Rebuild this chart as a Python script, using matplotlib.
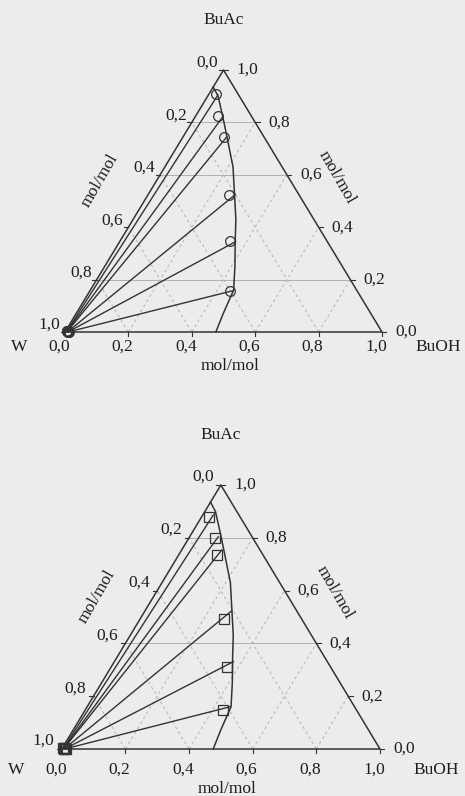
import numpy as np
import matplotlib.pyplot as plt

plt.rcParams['font.family'] = ['Liberation Serif', 'DejaVu Serif']

# binodal curve, organic branch (mole fractions)
binodal_buoh = [0.476, 0.464, 0.452, 0.411, 0.362, 0.324, 0.275, 0.215, 0.135, 0.088, 0.033, 0.0]
binodal_buac = [0.0, 0.07, 0.16, 0.25, 0.35, 0.43, 0.52, 0.63, 0.75, 0.82, 0.90, 0.935]

# upper diagram: tie lines and measured points (circles)
top_aq_buoh = [0.004, 0.005, 0.006, 0.008, 0.010, 0.012]
top_aq_buac = [0.002, 0.002, 0.002, 0.001, 0.001, 0.001]
top_org_buoh = [0.030, 0.087, 0.138, 0.275, 0.366, 0.452]
top_org_buac = [0.905, 0.822, 0.745, 0.525, 0.345, 0.158]
top_exp_buoh = [0.024, 0.072, 0.130, 0.256, 0.348, 0.442]
top_exp_buac = [0.907, 0.823, 0.745, 0.524, 0.346, 0.156]

# lower diagram: tie lines and measured points (squares)
bot_aq_buoh = [0.004, 0.005, 0.006, 0.008, 0.010, 0.012]
bot_aq_buac = [0.002, 0.002, 0.002, 0.001, 0.001, 0.001]
bot_org_buoh = [0.033, 0.090, 0.126, 0.272, 0.374, 0.449]
bot_org_buac = [0.886, 0.804, 0.754, 0.523, 0.331, 0.160]
bot_exp_buoh = [0.025, 0.082, 0.122, 0.265, 0.362, 0.432]
bot_exp_buac = [0.878, 0.800, 0.734, 0.492, 0.312, 0.148]

ticks = [0.0, 0.2, 0.4, 0.6, 0.8, 1.0]
tick_labels = ['0,0', '0,2', '0,4', '0,6', '0,8', '1,0']

H = np.sqrt(3) / 2
FW, FH = 465, 796
LINE = '#333333'
TXT = '#1e1e1e'
FS = 12.5


def cart(buoh, buac):
    buoh = np.asarray(buoh, dtype=float)
    buac = np.asarray(buac, dtype=float)
    return buoh + 0.5 * buac, buac * H


def tern_axes(fig, x0, y0, w, h, xlim=(-0.2, 1.25), ylim=(-0.15, 1.05)):
    # place an axes so that the W corner sits at pixel (x0, y0)
    sy = h / H
    left = x0 + xlim[0] * w
    right = x0 + xlim[1] * w
    top = y0 - ylim[1] * sy
    bottom = y0 - ylim[0] * sy
    ax = fig.add_axes([left / FW, 1 - bottom / FH, (right - left) / FW, (bottom - top) / FH])
    ax.set_xlim(*xlim)
    ax.set_ylim(*ylim)
    ax.axis('off')
    return ax


def label(ax, s, xy, off, **kw):
    ax.annotate(s, xy, xytext=off, textcoords='offset pixels', ha='center',
                va='center', fontsize=FS, color=TXT, **kw)


def draw_panel(ax, aq_buoh, aq_buac, org_buoh, org_buac, exp_buoh, exp_buac,
               marker, hlines, base_dy, left_off):
    # grid
    for v in [0.2, 0.4, 0.6, 0.8]:
        x, y = cart([0, 1 - v], [v, v])
        if v in hlines:
            ax.plot(x, y, color='#a6a6a6', lw=0.6)
        x, y = cart([v, v], [0, 1 - v])
        ax.plot(x, y, color='#b4b4b4', lw=0.7, ls=(0, (3, 3)))
        x, y = cart([v, 0], [0, v])
        ax.plot(x, y, color='#b4b4b4', lw=0.7, ls=(0, (3, 3)))

    # frame
    x, y = cart([0, 1, 0, 0], [0, 0, 1, 0])
    ax.plot(x, y, color=LINE, lw=1.1)

    # ticks and tick labels
    t = 0.014
    for v, lab in zip(ticks, tick_labels):
        bx, by = cart(v, 0)
        ax.plot([bx, bx], [by, by - t], color=LINE, lw=0.8)
        label(ax, lab, (bx, by), (-6, base_dy))
        rx, ry = cart(1 - v, v)
        ax.plot([rx, rx + t], [ry, ry], color=LINE, lw=0.8)
        label(ax, lab, (rx, ry), (24, 0))
        lx, ly = cart(0, 1 - v)
        ax.plot([lx, lx - t], [ly, ly], color=LINE, lw=0.8)
        label(ax, lab, (lx, ly), left_off)

    # binodal curve
    x, y = cart(binodal_buoh, binodal_buac)
    ax.plot(x, y, color=LINE, lw=1.1)

    # tie lines
    ax_, ay_ = cart(aq_buoh, aq_buac)
    ox, oy = cart(org_buoh, org_buac)
    for i in range(len(ox)):
        ax.plot([ax_[i], ox[i]], [ay_[i], oy[i]], color=LINE, lw=1.0)

    # measured points
    ex, ey = cart(exp_buoh, exp_buac)
    ms = 7 if marker == 'o' else 6.5
    ax.plot(ex, ey, marker, ms=ms, mfc='none', mec=LINE, mew=0.9)
    ax.plot(ax_, ay_, marker, ms=ms, mfc='none', mec=LINE, mew=0.9)

    # component and axis names
    apx, apy = cart(0, 1)
    label(ax, 'BuAc', (apx, apy), (0, 50))
    label(ax, 'W', (0, 0), (-46, base_dy))
    label(ax, 'BuOH', (1, 0), (56, base_dy))
    label(ax, 'mol/mol', (0.52, 0), (0, base_dy - 19))
    ax.text(0.11, 0.50, 'mol/mol', rotation=60, ha='center', va='center',
            fontsize=FS, color=TXT)
    ax.text(0.857, 0.512, 'mol/mol', rotation=-60, ha='center', va='center',
            fontsize=FS, color=TXT)


fig = plt.figure(figsize=(FW / 100, FH / 100), dpi=100)
fig.patch.set_facecolor('#ececea')

ax1 = tern_axes(fig, 65, 332, 317, 262)
draw_panel(ax1, top_aq_buoh, top_aq_buac, top_org_buoh, top_org_buac,
           top_exp_buoh, top_exp_buac, 'o', [0.2, 0.6, 0.8], -15, (-16, 7))

ax2 = tern_axes(fig, 61.7, 749, 318.3, 264)
draw_panel(ax2, bot_aq_buoh, bot_aq_buac, bot_org_buoh, bot_org_buac,
           bot_exp_buoh, bot_exp_buac, 's', [0.4, 0.8], -21, (-18, 8))

fig.savefig('out.png', dpi=100, facecolor=fig.get_facecolor())
